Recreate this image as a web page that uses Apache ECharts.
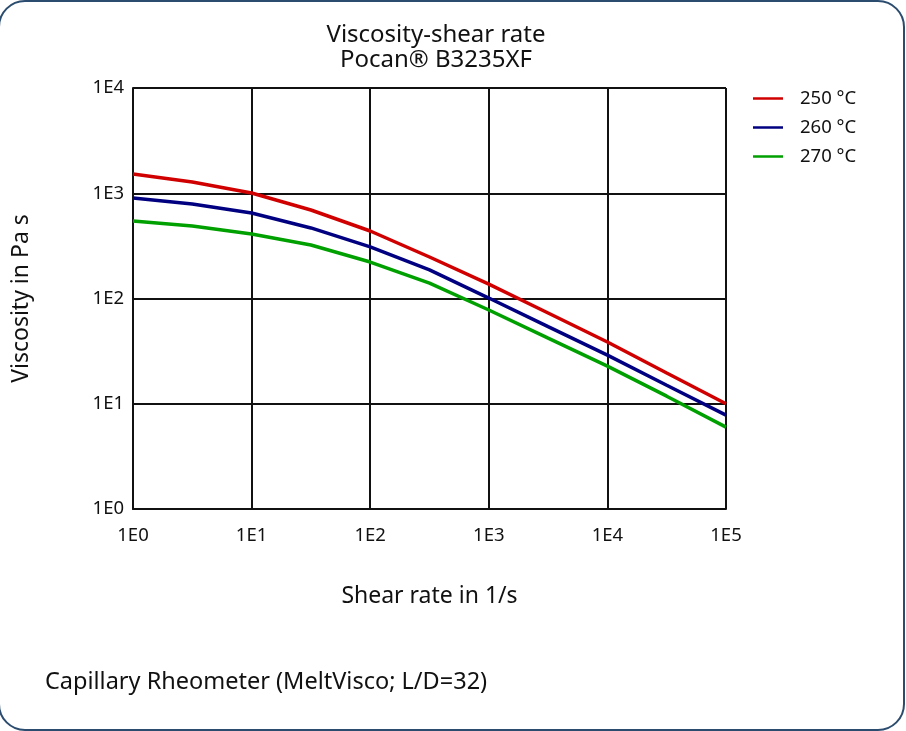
<!DOCTYPE html>
<html>
<head>
<meta charset="utf-8">
<script src="https://cdn.jsdelivr.net/npm/echarts@6/dist/echarts.min.js"></script>
<style>
html,body{margin:0;padding:0;background:#fff;}
#chart{width:906px;height:731px;}
</style>
</head>
<body>
<div id="chart"></div>
<script>
const shearRates = [1, 3.162, 10, 31.62, 100, 316.2, 1000, 3162, 10000, 31623, 100000];
const visc250 = [1524, 1279, 1005, 693, 438, 248, 137, 72.8, 38.6, 19.6, 10.0];
const visc260 = [901, 790, 649, 468, 309, 187, 101, 54, 29, 15, 7.8];
const visc270 = [545, 489, 410, 322, 222, 140, 77.8, 42, 22.8, 11.8, 6.0];
const seriesNames = ['250 °C', '260 °C', '270 °C'];
const seriesColors = ['#d00000', '#000080', '#00a000'];
const tickLabels = {1:'1E0',10:'1E1',100:'1E2',1000:'1E3',10000:'1E4',100000:'1E5'};

const FONT = '"Noto Sans", sans-serif';
const chart = echarts.init(document.getElementById('chart'));
const pairs = a => shearRates.map((x, i) => [x, a[i]]);
const allSeries = [visc250, visc260, visc270];

chart.setOption({
  animation: false,
  backgroundColor: '#fff',
  title: {
    text: 'Viscosity-shear rate\nPocan® B3235XF',
    left: 431, top: 18, textAlign: 'center',
    textStyle: {fontFamily: FONT, fontSize: 24, fontWeight: 'normal', color: '#111', lineHeight: 25}
  },
  legend: {
    orient: 'vertical', left: 748, top: 84, itemGap: 10,
    itemWidth: 30, itemHeight: 20, icon: 'path://M0,0 L30,0 L30,2.5 L0,2.5 Z',
    textStyle: {fontFamily: FONT, fontSize: 18.5, color: '#111', padding: [0, 0, 0, 12]},
    data: seriesNames
  },
  grid: {left: 133, right: 180, top: 88, bottom: 222},
  xAxis: {
    type: 'log', logBase: 10, min: 1, max: 100000,
    name: 'Shear rate in 1/s', nameLocation: 'middle', nameGap: 76,
    nameTextStyle: {fontFamily: FONT, fontSize: 23, color: '#111'},
    axisLine: {lineStyle: {color: '#111', width: 2}},
    axisTick: {show: false},
    axisLabel: {fontFamily: FONT, fontSize: 18.5, color: '#111', margin: 17,
      formatter: v => tickLabels[Math.round(v)] || ''},
    splitLine: {show: true, lineStyle: {color: '#111', width: 2}},
    minorTick: {show: false}
  },
  yAxis: {
    type: 'log', logBase: 10, min: 1, max: 10000,
    name: 'Viscosity in Pa s', nameLocation: 'middle', nameGap: 100,
    nameTextStyle: {fontFamily: FONT, fontSize: 23, color: '#111'},
    axisLine: {show: true, lineStyle: {color: '#111', width: 2}},
    axisTick: {show: false},
    axisLabel: {fontFamily: FONT, fontSize: 18.5, color: '#111', margin: 9,
      formatter: v => tickLabels[Math.round(v)] || ''},
    splitLine: {show: true, lineStyle: {color: '#111', width: 2}}
  },
  series: allSeries.map((a, i) => ({
    name: seriesNames[i], type: 'line', data: pairs(a),
    showSymbol: false, symbol: 'none', smooth: false,
    lineStyle: {color: seriesColors[i], width: 3.5},
    itemStyle: {color: seriesColors[i]}
  })),
  graphic: [
    {type: 'rect', shape: {x: -1, y: 1, width: 905, height: 729, r: 26},
      style: {fill: 'none', stroke: '#2b4c6f', lineWidth: 2}, silent: true},
    {type: 'text', left: 45, top: 670,
      style: {text: 'Capillary Rheometer (MeltVisco; L/D=32)', fontFamily: FONT, fontSize: 23.5, fill: '#111'}}
  ]
});
</script>
</body>
</html>
